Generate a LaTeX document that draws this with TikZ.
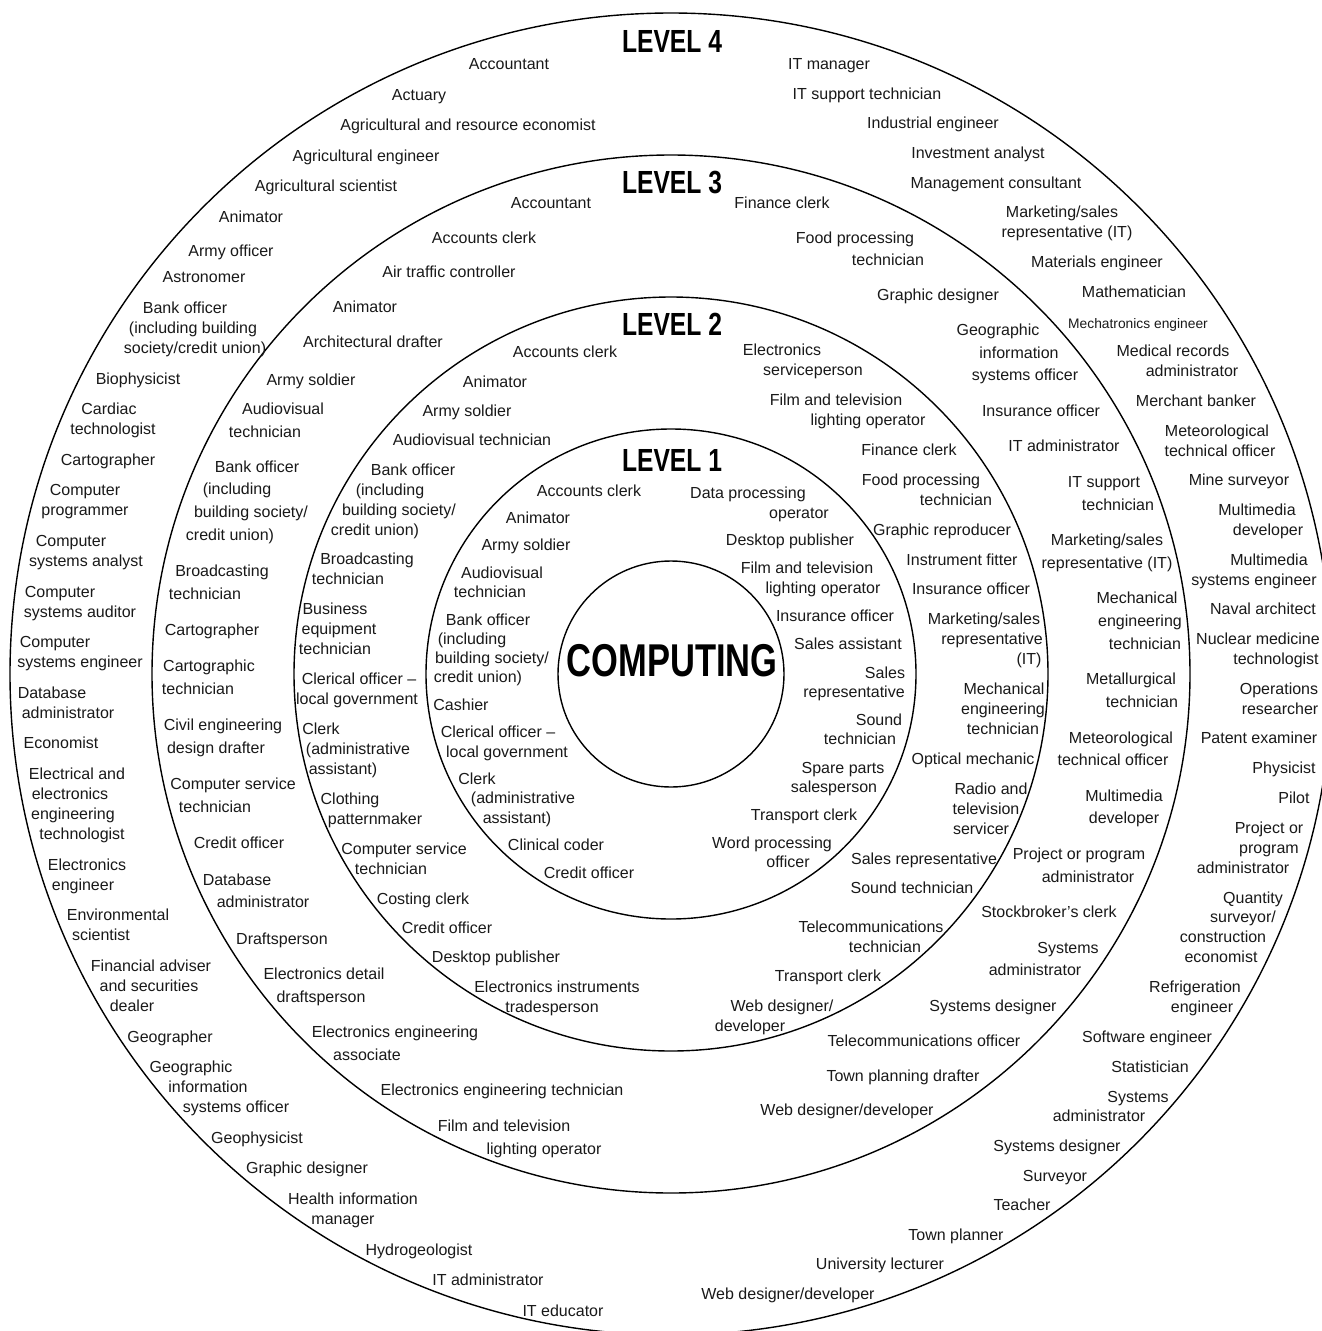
\documentclass[tikz,border=0pt]{standalone}
\usepackage{fontspec}
\setmainfont{Liberation Sans}
\tikzset{
  lbl/.style={anchor=mid,inner sep=0pt,yshift=-3.5pt,font=\fontsize{16}{20}\selectfont,text=black!90},
  small/.style={anchor=mid,inner sep=0pt,yshift=-3.5pt,font=\fontsize{13.8}{18}\selectfont,text=black!90},
  head/.style={anchor=center,inner sep=0pt,font=\fontsize{32}{36}\bfseries},
  ring/.style={line width=1.4pt}
}
\newcommand\lab[3]{\node[lbl] at (#1,#2) {#3};}
\newcommand\hd[3]{\node[head] (#1) at (672,#2) {\scalebox{0.77}[1]{#3}};}
\begin{document}
\begin{tikzpicture}[x=1pt,y=-1pt]
\useasboundingbox (0,0) rectangle (1322,1331);
\clip (0,0) rectangle (1322,1331);
\fill[white] (0,0) rectangle (1322,1331);
\coordinate (c) at (671,674);
\foreach \r in {113,245,377,519,661} \draw[ring] (c) circle[radius=\r pt];
% headings
\hd{l4}{41}{LEVEL 4}
\hd{l3}{183}{LEVEL 3}
\hd{l2}{324}{LEVEL 2}
\hd{l1}{460}{LEVEL 1}
\node[anchor=center,inner sep=0pt,font=\fontsize{46}{50}\bfseries] (comp) at (672,661) {\scalebox{0.75}[1]{COMPUTING}};
% ===== LEVEL 4 left
\lab{509}{63}{Accountant}
\lab{419}{94}{Actuary}
\lab{468}{124}{Agricultural and resource economist}
\lab{366}{155}{Agricultural engineer}
\lab{326}{185}{Agricultural scientist}
\lab{251}{216}{Animator}
\lab{231}{250}{Army officer}
\lab{204}{276}{Astronomer}
\lab{185}{307}{Bank officer}
\lab{193}{327}{(including building}
\lab{195}{347}{society/credit union)}
\lab{138}{378}{Biophysicist}
\lab{109}{408}{Cardiac}
\lab{113}{428}{technologist}
\lab{108}{459}{Cartographer}
\lab{85}{489}{Computer}
\lab{85}{509}{programmer}
\lab{71}{540}{Computer}
\lab{86}{560}{systems analyst}
\lab{60}{591}{Computer}
\lab{80}{611}{systems auditor}
\lab{55}{641}{Computer}
\lab{80}{661}{systems engineer}
\lab{52}{692}{Database}
\lab{68}{712}{administrator}
\lab{61}{742}{Economist}
\lab{77}{773}{Electrical and}
\lab{70}{793}{electronics}
\lab{73}{813}{engineering}
\lab{82}{833}{technologist}
\lab{87}{864}{Electronics}
\lab{83}{884}{engineer}
\lab{118}{914}{Environmental}
\lab{101}{934}{scientist}
\lab{151}{965}{Financial adviser}
\lab{149}{985}{and securities}
\lab{132}{1005}{dealer}
\lab{170}{1036}{Geographer}
\lab{191}{1066}{Geographic}
\lab{208}{1086}{information}
\lab{236}{1106}{systems officer}
\lab{257}{1137}{Geophysicist}
\lab{307}{1167}{Graphic designer}
\lab{353}{1198}{Health information}
\lab{343}{1218}{manager}
\lab{419}{1249}{Hydrogeologist}
\lab{488}{1279}{IT administrator}
\lab{563}{1310}{IT educator}
% ===== LEVEL 4 right
\lab{829}{63}{IT manager}
\lab{867}{93}{IT support technician}
\lab{933}{122}{Industrial engineer}
\lab{978}{152}{Investment analyst}
\lab{996}{182}{Management consultant}
\lab{1062}{211}{Marketing/sales}
\lab{1067}{231}{representative (IT)}
\lab{1097}{261}{Materials engineer}
\lab{1134}{291}{Mathematician}
\node[small] at (1138,322) {Mechatronics engineer};
\lab{1173}{350}{Medical records}
\lab{1192}{370}{administrator}
\lab{1196}{400}{Merchant banker}
\lab{1217}{430}{Meteorological}
\lab{1220}{450}{technical officer}
\lab{1239}{479}{Mine surveyor}
\lab{1257}{509}{Multimedia}
\lab{1268}{529}{developer}
\lab{1269}{559}{Multimedia}
\lab{1254}{579}{systems engineer}
\lab{1263}{608}{Naval architect}
\lab{1258}{638}{Nuclear medicine}
\lab{1276}{658}{technologist}
\lab{1279}{688}{Operations}
\lab{1280}{708}{researcher}
\lab{1259}{737}{Patent examiner}
\lab{1284}{767}{Physicist}
\lab{1294}{797}{Pilot}
\lab{1269}{827}{Project or}
\lab{1269}{847}{program}
\lab{1243}{867}{administrator}
\lab{1253}{897}{Quantity}
\lab{1243}{916}{surveyor/}
\lab{1223}{936}{construction}
\lab{1221}{956}{economist}
\lab{1195}{986}{Refrigeration}
\lab{1202}{1006}{engineer}
\lab{1147}{1036}{Software engineer}
\lab{1150}{1066}{Statistician}
\lab{1138}{1096}{Systems}
\lab{1099}{1115}{administrator}
\lab{1057}{1145}{Systems designer}
\lab{1055}{1175}{Surveyor}
\lab{1022}{1204}{Teacher}
\lab{956}{1234}{Town planner}
\lab{880}{1263}{University lecturer}
\lab{788}{1293}{Web designer/developer}
% ===== LEVEL 3 left
\lab{551}{202}{Accountant}
\lab{484}{237}{Accounts clerk}
\lab{449}{271}{Air traffic controller}
\lab{365}{306}{Animator}
\lab{373}{341}{Architectural drafter}
\lab{311}{379}{Army soldier}
\lab{283}{408}{Audiovisual}
\lab{265}{431}{technician}
\lab{257}{466}{Bank officer}
\lab{237}{488}{(including}
\lab{251}{511}{building society/}
\lab{230}{534}{credit union)}
\lab{222}{570}{Broadcasting}
\lab{205}{593}{technician}
\lab{212}{629}{Cartographer}
\lab{209}{665}{Cartographic}
\lab{198}{688}{technician}
\lab{223}{724}{Civil engineering}
\lab{216}{747}{design drafter}
\lab{233}{783}{Computer service}
\lab{215}{806}{technician}
\lab{239}{842}{Credit officer}
\lab{237}{879}{Database}
\lab{263}{901}{administrator}
\lab{282}{938}{Draftsperson}
\lab{324}{973}{Electronics detail}
\lab{321}{996}{draftsperson}
\lab{395}{1031}{Electronics engineering}
\lab{367}{1054}{associate}
\lab{502}{1089}{Electronics engineering technician}
\lab{504}{1125}{Film and television}
\lab{544}{1148}{lighting operator}
% ===== LEVEL 3 right
\lab{782}{202}{Finance clerk}
\lab{855}{237}{Food processing}
\lab{888}{259}{technician}
\lab{938}{294}{Graphic designer}
\lab{998}{329}{Geographic}
\lab{1019}{352}{information}
\lab{1025}{374}{systems officer}
\lab{1041}{410}{Insurance officer}
\lab{1064}{445}{IT administrator}
\lab{1104}{481}{IT support}
\lab{1118}{504}{technician}
\lab{1107}{539}{Marketing/sales}
\lab{1107}{562}{representative (IT)}
\lab{1137}{597}{Mechanical}
\lab{1140}{620}{engineering}
\lab{1145}{643}{technician}
\lab{1131}{678}{Metallurgical}
\lab{1142}{701}{technician}
\lab{1121}{737}{Meteorological}
\lab{1113}{759}{technical officer}
\lab{1124}{795}{Multimedia}
\lab{1124}{817}{developer}
\lab{1079}{853}{Project or program}
\lab{1088}{876}{administrator}
\lab{1049}{911}{Stockbroker's clerk}
\lab{1068}{947}{Systems}
\lab{1035}{969}{administrator}
\lab{993}{1005}{Systems designer}
\lab{924}{1040}{Telecommunications officer}
\lab{903}{1075}{Town planning drafter}
\lab{847}{1109}{Web designer/developer}
% ===== LEVEL 2 left
\lab{565}{351}{Accounts clerk}
\lab{495}{381}{Animator}
\lab{467}{410}{Army soldier}
\lab{472}{439}{Audiovisual technician}
\lab{413}{469}{Bank officer}
\lab{390}{489}{(including}
\lab{399}{509}{building society/}
\lab{375}{529}{credit union)}
\lab{367}{558}{Broadcasting}
\lab{348}{578}{technician}
\lab{335}{608}{Business}
\lab{339}{628}{equipment}
\lab{335}{648}{technician}
\lab{359}{678}{Clerical officer –}
\lab{357}{698}{local government}
\lab{321}{728}{Clerk}
\lab{358}{748}{(administrative}
\lab{343}{768}{assistant)}
\lab{350}{798}{Clothing}
\lab{375}{818}{patternmaker}
\lab{404}{848}{Computer service}
\lab{391}{868}{technician}
\lab{423}{898}{Costing clerk}
\lab{447}{927}{Credit officer}
\lab{496}{956}{Desktop publisher}
\lab{557}{986}{Electronics instruments}
\lab{552}{1006}{tradesperson}
% ===== LEVEL 2 right
\lab{782}{349}{Electronics}
\lab{813}{369}{serviceperson}
\lab{836}{399}{Film and television}
\lab{868}{419}{lighting operator}
\lab{909}{449}{Finance clerk}
\lab{921}{479}{Food processing}
\lab{956}{499}{technician}
\lab{942}{529}{Graphic reproducer}
\lab{962}{559}{Instrument fitter}
\lab{971}{588}{Insurance officer}
\lab{984}{618}{Marketing/sales}
\lab{992}{638}{representative}
\lab{1029}{658}{(IT)}
\lab{1004}{688}{Mechanical}
\lab{1003}{708}{engineering}
\lab{1003}{728}{technician}
\lab{973}{758}{Optical mechanic}
\lab{991}{788}{Radio and}
\lab{986}{808}{television}
\lab{981}{828}{servicer}
\lab{924}{858}{Sales representative}
\lab{912}{887}{Sound technician}
\lab{871}{926}{Telecommunications}
\lab{885}{946}{technician}
\lab{828}{975}{Transport clerk}
\lab{782}{1005}{Web designer/}
\lab{750}{1025}{developer}
% ===== LEVEL 1 left
\lab{589}{490}{Accounts clerk}
\lab{538}{517}{Animator}
\lab{526}{544}{Army soldier}
\lab{502}{572}{Audiovisual}
\lab{490}{591}{technician}
\lab{488}{619}{Bank officer}
\lab{472}{638}{(including}
\lab{492}{657}{building society/}
\lab{478}{676}{credit union)}
\lab{461}{704}{Cashier}
\lab{498}{731}{Clerical officer –}
\lab{507}{751}{local government}
\lab{477}{778}{Clerk}
\lab{523}{797}{(administrative}
\lab{517}{817}{assistant)}
\lab{556}{844}{Clinical coder}
\lab{589}{872}{Credit officer}
% ===== LEVEL 1 right
\lab{748}{492}{Data processing}
\lab{799}{512}{operator}
\lab{790}{539}{Desktop publisher}
\lab{807}{567}{Film and television}
\lab{823}{587}{lighting operator}
\lab{835}{615}{Insurance officer}
\lab{848}{643}{Sales assistant}
\lab{885}{672}{Sales}
\lab{854}{691}{representative}
\lab{879}{719}{Sound}
\lab{860}{738}{technician}
\lab{843}{767}{Spare parts}
\lab{834}{786}{salesperson}
\lab{804}{814}{Transport clerk}
\lab{772}{842}{Word processing}
\lab{788}{861}{officer}
\end{tikzpicture}
\end{document}
